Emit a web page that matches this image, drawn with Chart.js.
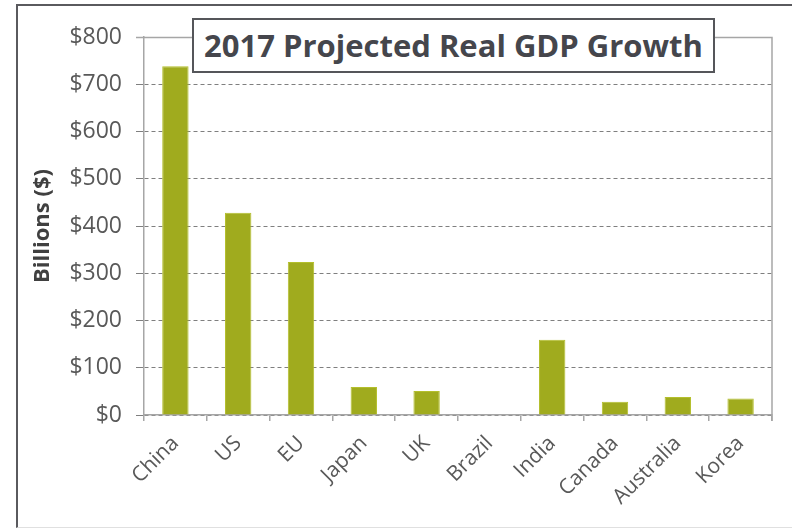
<!DOCTYPE html>
<html>
<head>
<meta charset="utf-8">
<script src="https://cdn.jsdelivr.net/npm/chart.js@4"></script>
<style>
  html, body { margin:0; padding:0; background:#fff; }
  #wrap { position:relative; width:792px; height:528px; overflow:hidden; }
  #frame { position:absolute; left:16px; top:4px; width:800px; height:521px;
           border-left:2px solid #5a5a5e; border-top:2px solid #5a5a5e; border-bottom:1px solid #e0e0e0; }
  canvas { position:absolute; left:0; top:0; }
  #title { position:absolute; left:192px; top:18px; width:519px; height:51px;
           border:2px solid #55565a; background:#fff; color:#45464c;
           font-family:"Open Sans", sans-serif; font-weight:bold; font-size:31px;
           line-height:51px; text-align:center; white-space:nowrap; }
</style>
</head>
<body>
<div id="wrap">
  <div id="frame"></div>
  <canvas id="c" width="792" height="528"></canvas>
  <div id="title">2017 Projected Real GDP Growth</div>
</div>
<script>
const categories = ["China","US","EU","Japan","UK","Brazil","India","Canada","Australia","Korea"];
const gdpGrowth = [738, 428, 324, 59, 51, 0, 159, 28, 38, 35];
const yTicks = [0,100,200,300,400,500,600,700,800];

const frameBox = {
  id:'frameBox',
  afterDraw(chart){
    const {ctx, chartArea:a} = chart;
    ctx.save();
    ctx.strokeStyle = '#a6a6a6';
    ctx.lineWidth = 1.5;
    ctx.beginPath();
    ctx.moveTo(a.left - 8, a.top + 0.5);
    ctx.lineTo(a.right, a.top + 0.5);
    ctx.lineTo(a.right, a.bottom + 6);
    ctx.stroke();
    ctx.restore();
  }
};

new Chart(document.getElementById('c'), {
  type:'bar',
  data:{
    labels:categories,
    datasets:[{
      data:gdpGrowth,
      backgroundColor:'#a0ab1e',
      borderColor:'#b4bf2c',
      borderWidth:1,
      barPercentage:0.42,
      categoryPercentage:1
    }]
  },
  options:{
    responsive:false,
    animation:false,
    layout:{ padding:{ left:0, top:37, right:20, bottom:0 } },
    plugins:{ legend:{display:false}, tooltip:{enabled:false} },
    scales:{
      x:{
        afterFit(s){ s.height = 113; },
        grid:{ display:true, drawOnChartArea:false, drawTicks:true, tickLength:6, color:'#a6a6a6', lineWidth:1.5 },
        border:{ display:true, color:'#a6a6a6', width:1.5 },
        ticks:{ color:'#595959', font:{family:'"Open Sans", sans-serif', size:21}, maxRotation:45, minRotation:45, padding:10 }
      },
      y:{
        min:0, max:800,
        afterFit(s){ s.width = 144; },
        afterBuildTicks(s){ s.ticks = yTicks.map(v => ({value:v})); },
        grid:{ color:'#7f7f7f', lineWidth:1, tickLength:8, drawTicks:true },
        border:{ display:true, color:'#a6a6a6', width:1.5, dash:[4,3] },
        ticks:{ color:'#595959', font:{family:'"Open Sans", sans-serif', size:23}, padding:14,
                callback:(v)=>'$'+v },
        title:{ display:true, text:'Billions ($)', color:'#404040',
                font:{family:'"Open Sans", sans-serif', size:22, weight:'bold'}, padding:{top:30, bottom:0} }
      }
    }
  },
  plugins:[frameBox]
});
</script>
</body>
</html>
